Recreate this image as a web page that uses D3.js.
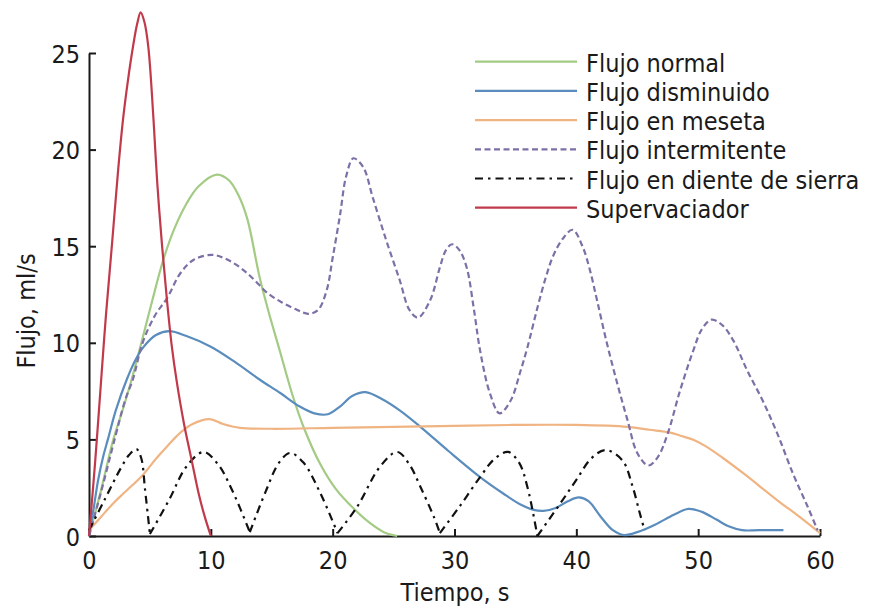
<!DOCTYPE html>
<html>
<head>
<meta charset="utf-8">
<script src="https://cdn.jsdelivr.net/npm/d3@7"></script>
<style>
  body { margin: 0; background: #fff; }
  text { font-family: "DejaVu Sans Condensed", "DejaVu Sans", sans-serif; font-stretch: condensed; fill: #1a1a1a; }
</style>
</head>
<body>
<div id="graph"></div>
<script>
// series, each one as [tiempo (s), flujo (ml/s)]
const flujoNormal = [[0,0],[1,2.4],[2,5],[2.8,6.6],[3.5,8.1],[4.3,10],[5.2,12.2],[6.1,14.3],[7,15.9],[8,17.2],[9,18.1],[10.5,18.7],[11.5,18.4],[12.3,17.6],[13,16.4],[14,13.4],[14.7,11.7],[15.7,9.5],[16.7,7.3],[17.7,5.5],[19,3.7],[20.3,2.4],[21.6,1.5],[23,0.7],[24.2,0.2],[25.3,0]];
const flujoDisminuido = [[0,0],[0.4,1.5],[0.75,2.9],[1.2,4.2],[1.55,5],[2.2,6.5],[3.1,8.1],[3.8,9.1],[4.5,9.8],[5.5,10.4],[6.6,10.6],[8,10.35],[10,9.8],[12,9],[14,8.1],[15.7,7.4],[17.3,6.7],[18.5,6.35],[19.6,6.3],[20.6,6.7],[21.6,7.25],[22.7,7.45],[24,7.1],[25.5,6.5],[27.2,5.65],[29.5,4.4],[32.1,3.05],[34,2.2],[35.5,1.6],[36.5,1.35],[37.3,1.3],[38.3,1.45],[39.3,1.8],[40.2,2.0],[41,1.8],[42,1.0],[43,0.3],[43.9,0.05],[45,0.2],[46.5,0.6],[48,1.1],[49.2,1.4],[50.3,1.25],[51.5,0.85],[52.5,0.5],[53.6,0.3],[55,0.3],[57,0.3]];
const flujoMeseta = [[0,0.3],[1,1.0],[2,1.7],[3,2.3],[4.4,3.15],[5.5,4.0],[6.5,4.7],[7.5,5.35],[8.5,5.8],[9.9,6.05],[11,5.8],[12.4,5.6],[15,5.55],[20,5.6],[25,5.65],[30,5.7],[35,5.75],[40,5.75],[44.2,5.65],[46,5.5],[47.7,5.35],[48.5,5.2],[49.6,4.98],[50.6,4.65],[52,4.05],[53.7,3.25],[56.5,1.85],[58.3,1.0],[60,0.15]];
const flujoIntermitente = [[0,0],[1,2.3],[2.1,5],[3,7.1],[3.6,8.1],[4.4,10],[5.4,11.4],[6.4,12.3],[7.5,13.6],[8.6,14.3],[10.1,14.55],[11.2,14.35],[12.4,13.9],[13.5,13.3],[14.6,12.6],[15.8,12.1],[17.1,11.7],[18,11.5],[18.8,11.7],[19.5,12.7],[20,14.4],[20.6,16.6],[21.1,18.6],[21.7,19.55],[22.5,19.1],[23.3,17.5],[24.4,15.3],[25.5,13.25],[26.3,11.7],[27,11.3],[28,12.2],[28.8,13.9],[29.3,14.8],[29.8,15.1],[30.4,14.8],[31,13.9],[31.6,11.7],[32.1,9.6],[32.9,7.4],[33.7,6.35],[34.6,7],[35.4,8.5],[36,9.8],[36.8,11.8],[37.5,13.4],[38.1,14.5],[38.9,15.4],[39.7,15.85],[40.5,15],[41.1,13.8],[41.7,12.2],[42.5,10],[43.4,7.8],[44.2,6.0],[45,4.3],[45.9,3.65],[46.7,4.1],[47.5,5.3],[48.5,7.5],[49.6,9.6],[50.3,10.7],[51.1,11.2],[52,10.9],[52.9,10.1],[54,8.6],[55.3,7],[56.5,5.3],[57.8,3.2],[59,1.5],[59.8,0.3]];
// diente de sierra: one array per arch, so the cusps stay sharp
const flujoDiente = [
  [[0,0.3],[1.3,1.9],[2.6,3.5],[3.3,4.2],[3.9,4.5],[4.3,4.0],[4.6,2.4],[5.0,0.1]],
  [[5.0,0.1],[6.6,1.9],[8.0,3.6],[9.4,4.35],[10.6,3.7],[11.8,2.3],[13.2,0.2]],
  [[13.2,0.2],[14.5,2.3],[15.6,3.8],[16.5,4.3],[17.6,3.8],[19,2.2],[20.4,0.15]],
  [[20.4,0.15],[22,1.5],[23.9,3.6],[25.3,4.35],[26.3,3.7],[27.2,2.55],[28.3,1.0],[28.8,0.15]],
  [[28.8,0.15],[30.5,1.6],[32.1,3.05],[33.3,4.0],[34.4,4.35],[35.3,3.8],[36,2.5],[36.8,0]],
  [[36.8,0],[38.7,1.7],[40,2.9],[41.2,4.0],[42.4,4.45],[43.8,3.9],[44.6,2.6],[45.2,1.2],[45.6,0.3]]
];
const supervaciador = [[0,0],[0.5,3.8],[1,8.1],[1.4,11.5],[1.9,15.2],[2.4,19],[2.8,21.6],[3.2,23.6],[3.63,25.4],[3.95,26.5],[4.24,27.1],[4.55,26.6],[4.87,25.3],[5.3,21.5],[5.6,18.3],[6.0,15],[6.4,12.2],[6.8,9.8],[7.2,8],[7.8,5.8],[8.4,4],[9.0,2.2],[9.5,1],[10,0]];

const xTicks = [0, 10, 20, 30, 40, 50, 60];
const yTicks = [0, 5, 10, 15, 20, 25];
const leyenda = ["Flujo normal", "Flujo disminuido", "Flujo en meseta", "Flujo intermitente", "Flujo en diente de sierra", "Supervaciador"];

const series = [
  { nombre: leyenda[0], datos: [flujoNormal], color: "#a3cb83", dash: null },
  { nombre: leyenda[1], datos: [flujoDisminuido], color: "#5a8dbd", dash: null },
  { nombre: leyenda[2], datos: [flujoMeseta], color: "#f0b483", dash: null },
  { nombre: leyenda[3], datos: [flujoIntermitente], color: "#7d70a6", dash: "6,3.5" },
  { nombre: leyenda[4], datos: flujoDiente, color: "#111", dash: "8,5,2.5,5" },
  { nombre: leyenda[5], datos: [supervaciador], color: "#c03a4c", dash: null }
];

const width = 869, height = 611;

const svg = d3.select("#graph")
  .append("svg")
  .attr("width", width)
  .attr("height", height);

const x = d3.scaleLinear().domain([0, 60]).range([89, 820]);
const y = d3.scaleLinear().domain([0, 25]).range([536, 53]);

// ejes, ticks hacia adentro
const xAxis = svg.append("g")
  .attr("transform", `translate(0, ${y(0)})`)
  .call(d3.axisBottom(x).tickValues(xTicks).tickSizeInner(-7).tickSizeOuter(0).tickPadding(15));

const yAxis = svg.append("g")
  .attr("transform", `translate(${x(0)}, 0)`)
  .call(d3.axisLeft(y).tickValues(yTicks).tickSizeInner(-7).tickSizeOuter(0).tickPadding(9));

svg.selectAll(".domain, .tick line")
  .attr("stroke", "#1a1a1a")
  .attr("stroke-width", 2);
svg.selectAll(".tick text")
  .attr("font-size", "25px")
  .attr("font-family", null)
  .attr("fill", null);
yAxis.selectAll(".tick text").attr("dy", "0.36em");

// titulos de ejes
svg.append("text")
  .attr("x", 455)
  .attr("y", 601)
  .attr("font-size", "25px")
  .attr("text-anchor", "middle")
  .text("Tiempo, s");

svg.append("text")
  .attr("transform", "translate(35, 311) rotate(-90)")
  .attr("font-size", "25px")
  .attr("text-anchor", "middle")
  .text("Flujo, ml/s");

// curvas
const line = d3.line()
  .x(d => x(d[0]))
  .y(d => y(d[1]))
  .curve(d3.curveCatmullRom.alpha(0.5));

const curvas = svg.append("g");
series.forEach(s => {
  curvas.append("path")
    .attr("d", s.datos.map(seg => line(seg)).join(""))
    .attr("fill", "none")
    .attr("stroke", s.color)
    .attr("stroke-width", 2.2)
    .attr("stroke-dasharray", s.dash);
});

// leyenda
const leg = svg.append("g");
series.forEach((s, i) => {
  const yy = 61.7 + i * 29.2;
  leg.append("line")
    .attr("x1", 475).attr("x2", 577)
    .attr("y1", yy).attr("y2", yy)
    .attr("stroke", s.color)
    .attr("stroke-width", 2.2)
    .attr("stroke-dasharray", s.dash);
  leg.append("text")
    .attr("x", 586)
    .attr("y", yy + 10)
    .attr("font-size", "25px")
    .text(s.nombre);
});
</script>
</body>
</html>
